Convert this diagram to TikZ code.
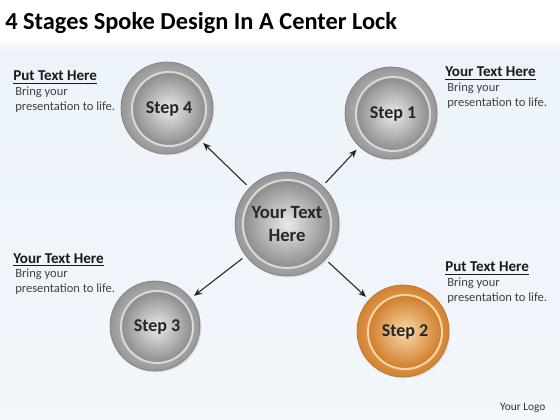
\documentclass[tikz,border=0pt]{standalone}
\usepackage{fontspec}
\setmainfont{Carlito}
\usetikzlibrary{arrows.meta,shadows}
\definecolor{ringdark}{RGB}{150,150,150}
\definecolor{ringlight}{RGB}{232,232,232}
\definecolor{discin}{RGB}{234,234,234}
\definecolor{discout}{RGB}{140,140,140}
\definecolor{orringdark}{RGB}{210,130,50}
\definecolor{orringlight}{RGB}{250,205,145}
\definecolor{ordiscin}{RGB}{250,218,170}
\definecolor{ordiscout}{RGB}{208,124,42}
\definecolor{bgblue}{RGB}{236,243,250}
\begin{document}
\begin{tikzpicture}[x=0.75pt,y=-0.75pt,
  outerring/.style={circle,minimum size=#1,inner sep=0pt,
    outer color=ringdark,inner color=ringlight,draw=ringdark!85!black,line width=0.5pt,
    drop shadow={opacity=0.2,shadow xshift=1pt,shadow yshift=-1pt}},
  innerdisc/.style={circle,minimum size=#1,inner sep=0pt,
    inner color=discin,outer color=discout,draw=white!85!black,line width=1.5pt},
  orouter/.style={circle,minimum size=#1,inner sep=0pt,
    outer color=orringdark,inner color=orringlight,draw=orringdark!90!black,line width=0.5pt,
    drop shadow={opacity=0.2,shadow xshift=1pt,shadow yshift=-1pt}},
  orinner/.style={circle,minimum size=#1,inner sep=0pt,
    inner color=ordiscin,outer color=ordiscout,draw=orringlight!80!white,line width=1.5pt},
  steplabel/.style={font=\bfseries\fontsize{13.5}{15}\selectfont,text=black!85},
  headA/.style={anchor=base west,inner sep=0pt,font=\bfseries\fontsize{11.3}{13}\selectfont,text=black!90},
  bodyA/.style={anchor=north west,align=left,font=\fontsize{9.4}{11.2}\selectfont,text=black!75,inner sep=0pt},
  spoke/.style={-{Stealth[length=6pt,width=5pt]},line width=0.8pt,draw=black!85,shorten <=3pt,shorten >=3pt}]
\useasboundingbox (0,0) rectangle (560,420);
\shade[top color=bgblue,bottom color=bgblue!70!white] (0,44) rectangle (560,420);
\fill[white] (0,0) rectangle (560,44);
\shade[top color=white,bottom color=bgblue] (0,38) rectangle (560,50);
\node[anchor=base west,inner sep=0pt,font=\bfseries\fontsize{18.3}{21}\selectfont,text=black] (title) at (5,30) {4 Stages Spoke Design In A Center Lock};

% center
\node[outerring=104*0.75pt] (c) at (287,224) {};
\node[innerdisc=88*0.75pt] (ci) at (c) {};
\node[steplabel,align=center,font=\bfseries\fontsize{14}{17}\selectfont] (ct) at (c) {Your Text\\Here};

% steps
\node[outerring=92*0.75pt] (s4) at (167,108) {};
\node[innerdisc=74*0.75pt] (s4i) at (169,109) {};
\node[steplabel] (s4t) at (s4i) {Step 4};

\node[outerring=92*0.75pt] (s1) at (391,113) {};
\node[innerdisc=74*0.75pt] (s1i) at (393,114) {};
\node[steplabel] (s1t) at (s1i) {Step 1};

\node[outerring=90*0.75pt] (s3) at (155,326) {};
\node[innerdisc=72*0.75pt] (s3i) at (157,327) {};
\node[steplabel] (s3t) at (s3i) {Step 3};

\node[orouter=92*0.75pt] (s2) at (403,331) {};
\node[orinner=74*0.75pt] (s2i) at (405,332) {};
\node[steplabel] (s2t) at (s2i) {Step 2};

% spokes
\draw[spoke] (c) -- (s4);
\draw[spoke] (c) -- (s1);
\draw[spoke] (c) -- (s3);
\draw[spoke] (c) -- (s2);

% text blocks
\node[headA] (h4) at (13,81) {\underline{Put Text Here}};
\node[bodyA] (b4) at (15,87) {Bring your\\presentation to life.};

\node[headA] (h1) at (445,77) {\underline{Your Text Here}};
\node[bodyA] (b1) at (447,83) {Bring your\\presentation to life.};

\node[headA] (h3) at (13,263) {\underline{Your Text Here}};
\node[bodyA] (b3) at (15,269) {Bring your\\presentation to life.};

\node[headA] (h2) at (445,272) {\underline{Put Text Here}};
\node[bodyA] (b2) at (447,278) {Bring your\\presentation to life.};

\node[anchor=base east,font=\fontsize{8.5}{10}\selectfont,text=black!80] (logo) at (550,410) {Your Logo};
\end{tikzpicture}
\end{document}
